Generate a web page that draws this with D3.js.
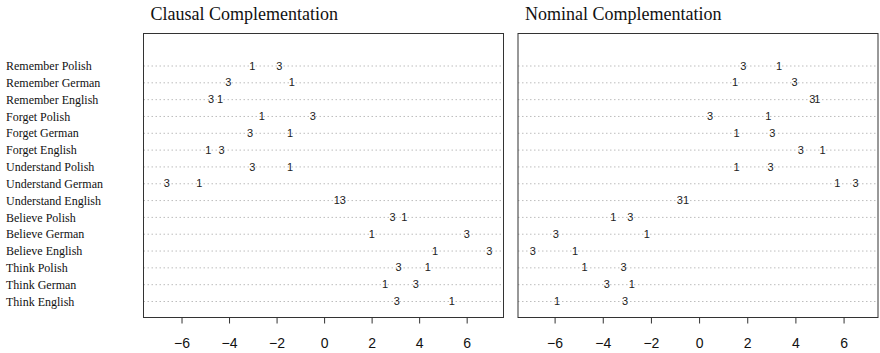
<!DOCTYPE html>
<html>
<head>
<meta charset="utf-8">
<script src="https://cdn.jsdelivr.net/npm/d3@7"></script>
<style>
  body { margin: 0; background: #fff; }
  svg { display: block; }
</style>
</head>
<body>
<svg id="chart" width="880" height="353"></svg>
<script>
const rowLabels = [
  'Remember Polish', 'Remember German', 'Remember English',
  'Forget Polish', 'Forget German', 'Forget English',
  'Understand Polish', 'Understand German', 'Understand English',
  'Believe Polish', 'Believe German', 'Believe English',
  'Think Polish', 'Think German', 'Think English'
];

// clausal complementation, marker "1" and marker "3"
const clausalOne = [-3.02, -1.36, -4.38, -2.62, -1.43, -4.87, -1.43, -5.25, 0.53, 3.38, 2.01, 4.67, 4.37, 2.57, 5.38];
const clausalThree = [-1.88, -4.03, -4.76, -0.48, -3.12, -4.31, -3.02, -6.62, 0.79, 2.88, 6.01, 6.95, 3.13, 3.86, 3.06];

// nominal complementation
const nominalOne = [3.32, 1.49, 4.91, 2.88, 1.56, 5.13, 1.56, 5.74, -0.54, -3.56, -2.17, -5.15, -4.76, -2.79, -5.90];
const nominalThree = [1.84, 3.96, 4.70, 0.46, 3.04, 4.22, 2.97, 6.50, -0.80, -2.86, -5.95, -6.90, -3.14, -3.83, -3.07];

const tickValues = [-6, -4, -2, 0, 2, 4, 6];

const panels = [
  { title: 'Clausal Complementation', one: clausalOne, three: clausalThree, x0: 143.5, x1: 503.5, domain: [-7.6, 7.55] },
  { title: 'Nominal Complementation', one: nominalOne, three: nominalThree, x0: 518, x1: 878, domain: [-7.52, 7.43] }
];

const svg = d3.select('#chart');
const boxTop = 33.5, boxBottom = 317.5;

const y = d3.scalePoint()
  .domain(rowLabels)
  .range([66, 301.5]);

// row labels on the left
svg.append('g')
  .selectAll('text')
  .data(rowLabels)
  .join('text')
  .attr('x', 6)
  .attr('y', d => y(d))
  .attr('dy', '0.35em')
  .attr('font-family', '"Liberation Serif", "Times New Roman", serif')
  .attr('font-size', 12)
  .attr('fill', '#111')
  .text(d => d);

panels.forEach(p => {
  const x = d3.scaleLinear().domain(p.domain).range([p.x0, p.x1]);
  const g = svg.append('g');

  g.append('text')
    .attr('x', p.x0 + 7)
    .attr('y', 19.5)
    .attr('font-family', '"Liberation Serif", "Times New Roman", serif')
    .attr('font-size', 18)
    .attr('fill', '#111')
    .text(p.title);

  // dotted guide lines
  g.append('g')
    .selectAll('line')
    .data(rowLabels)
    .join('line')
    .attr('x1', p.x0)
    .attr('x2', p.x1)
    .attr('y1', d => y(d))
    .attr('y2', d => y(d))
    .attr('stroke', '#bdbdbd')
    .attr('stroke-width', 1)
    .attr('stroke-dasharray', '1.5,2.5');

  // markers drawn as text
  const markers = [];
  rowLabels.forEach((r, i) => {
    markers.push({ row: r, v: p.one[i], t: '1' });
    markers.push({ row: r, v: p.three[i], t: '3' });
  });
  g.append('g')
    .selectAll('text')
    .data(markers)
    .join('text')
    .attr('x', d => x(d.v))
    .attr('y', d => y(d.row))
    .attr('dy', '0.33em')
    .attr('text-anchor', 'middle')
    .attr('font-family', '"Liberation Sans", Arial, sans-serif')
    .attr('font-size', 11)
    .attr('fill', '#222')
    .text(d => d.t);

  g.append('rect')
    .attr('x', p.x0)
    .attr('y', boxTop)
    .attr('width', p.x1 - p.x0)
    .attr('height', boxBottom - boxTop)
    .attr('fill', 'none')
    .attr('stroke', '#333')
    .attr('stroke-width', 1);

  const axis = d3.axisBottom(x)
    .tickValues(tickValues)
    .tickSize(6)
    .tickPadding(15)
    .tickFormat(d => d < 0 ? '\u2212' + Math.abs(d) : d);

  const ax = g.append('g')
    .attr('transform', `translate(0,${boxBottom})`)
    .call(axis);
  ax.select('.domain').remove();
  ax.selectAll('line').attr('stroke', '#333');
  ax.selectAll('text')
    .attr('font-family', '"Liberation Sans", Arial, sans-serif')
    .attr('font-size', 14)
    .attr('fill', '#111');
});
</script>
</body>
</html>
